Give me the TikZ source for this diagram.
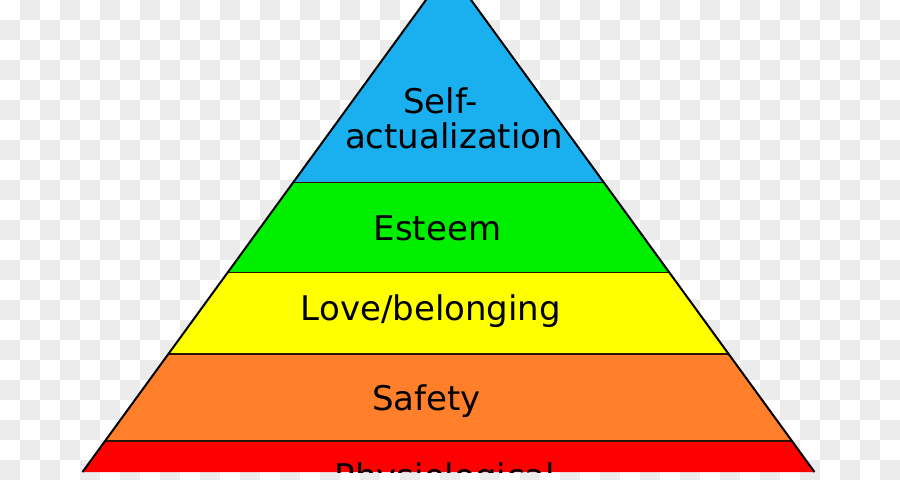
\documentclass[tikz,border=0pt]{standalone}
\usepackage{fontspec}
\setmainfont{DejaVu Sans}

\tikzset{every picture/.style={line width=0.75pt}}
\tikzset{
  needtext/.style={font=\fontsize{25.5}{27}\selectfont, anchor=base, inner sep=0pt},
  checker/.style={fill={rgb, 255:red, 236; green, 236; blue, 236 }},
  bandline/.style={draw={rgb, 255:red, 40; green, 20; blue, 0 }, line width=1pt}
}

\begin{document}
\begin{tikzpicture}[x=0.75pt,y=0.75pt,yscale=-1,xscale=1]
\useasboundingbox (0,0) rectangle (900,480);

%Background checker
\fill [white] (0,0) rectangle (900,480);
\foreach \i in {0,40,...,880} \foreach \j in {20,60,...,460} {
  \fill [checker] (\i,\j) rectangle +(20,20);
}
\foreach \i in {20,60,...,900} \foreach \j in {0,40,...,440} {
  \fill [checker] (\i,\j) rectangle +(20,20);
}

\begin{scope}
\clip (0,0) rectangle (900,472);

%Shape: Triangle [self-actualization]
\fill [fill={rgb, 255:red, 26; green, 176; blue, 240 }] (448.5,-31) -- (604,182.7) -- (293,182.7) -- cycle ;
%Shape: Trapezoid [esteem]
\fill [fill={rgb, 255:red, 0; green, 238; blue, 0 }] (293,182.7) -- (604,182.7) -- (669.2,272.3) -- (227.8,272.3) -- cycle ;
%Shape: Trapezoid [love]
\fill [fill={rgb, 255:red, 255; green, 255; blue, 0 }] (227.8,272.3) -- (669.2,272.3) -- (728.6,354) -- (168.4,354) -- cycle ;
%Shape: Trapezoid [safety]
\fill [fill={rgb, 255:red, 255; green, 127; blue, 42 }] (168.4,354) -- (728.6,354) -- (791.9,441) -- (105.1,441) -- cycle ;
%Shape: Trapezoid [physiological]
\fill [fill={rgb, 255:red, 255; green, 0; blue, 0 }] (105.1,441) -- (791.9,441) -- (814.5,472) -- (82.5,472) -- cycle ;

%Straight Lines
\draw [bandline] (293,182.7) -- (604,182.7) ;
\draw [bandline] (227.8,272.3) -- (669.2,272.3) ;
\draw [bandline] (168.4,354) -- (728.6,354) ;
\draw [bandline] (105.1,441) -- (791.9,441) ;
\draw [line width=1.5pt, line join=miter] (82.5,472) -- (448.5,-31) -- (814.5,472) ;

% Text Node
\node [needtext] (selfA) at (440.5,113) {Self-};
% Text Node
\node [needtext] (selfB) at (454,148) {actualization};
% Text Node
\node [needtext] (esteem) at (437.5,240) {Esteem};
% Text Node
\node [needtext] (love) at (431,320) {Love/belonging};
% Text Node
\node [needtext] (safety) at (426.5,410) {Safety};
% Text Node
\node [needtext] (physio) at (445,488) {Physiological};
\end{scope}

\end{tikzpicture}
\end{document}
